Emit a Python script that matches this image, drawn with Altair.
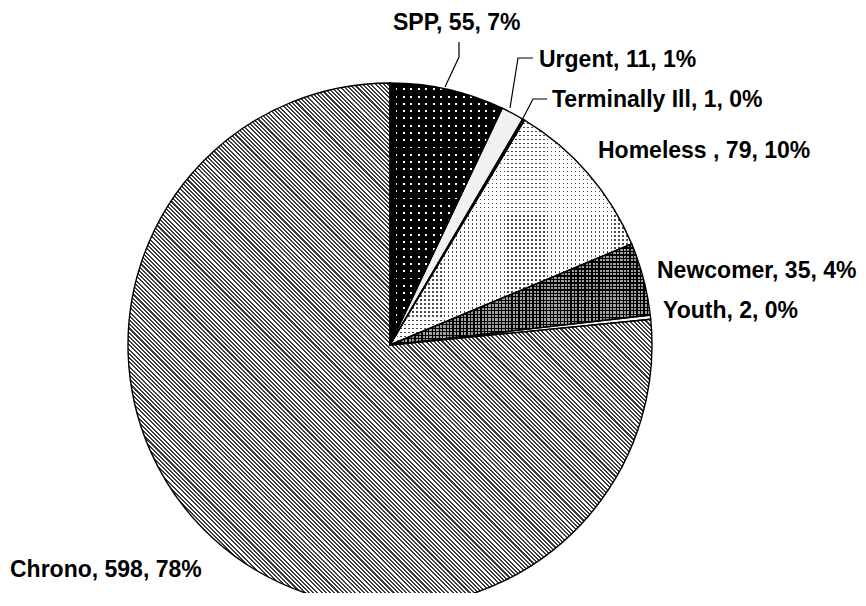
import altair as alt
import pandas as pd

# ---- data ----
categories = ["SPP", "Urgent", "Terminally Ill", "Homeless", "Newcomer", "Youth", "Chrono"]
display_names = ["SPP", "Urgent", "Terminally Ill", "Homeless ", "Newcomer", "Youth", "Chrono"]
values = [55, 11, 1, 79, 35, 2, 598]
pct_labels = ["7%", "1%", "0%", "10%", "4%", "0%", "78%"]

# ---- layout (plot-area pixels) ----
label_x = [385, 531, 544, 590, 649, 655, 2]
label_y = [22, 59, 99, 150, 270, 310, 569]
leader_cat = ["SPP", "SPP", "SPP", "Urgent", "Urgent", "Urgent",
              "Terminally Ill", "Terminally Ill", "Terminally Ill"]
leader_pt = [0, 1, 2, 0, 1, 2, 0, 1, 2]
leader_x = [451, 451, 437, 525, 510, 502, 539, 525, 513]
leader_y = [34, 49, 79, 50, 50, 100, 91, 91, 114]
CX, CY, R = 382, 337, 262

# ---- styles (hatch / dot textures built from striped gradients) ----
CLEAR = "rgba(0,0,0,0)"


def stripes(length_px, period, on_px, on_color, off_color, along_y):
    n = max(1, round(length_px / period))
    frac = on_px / period
    st = []
    for i in range(n):
        a = round(i / n, 5)
        b = round((i + frac) / n, 5)
        c = round((i + 1) / n, 5)
        st += [{"offset": a, "color": on_color}, {"offset": b, "color": on_color},
               {"offset": b, "color": off_color}, {"offset": c, "color": off_color}]
    g = {"gradient": "linear", "x1": 0, "y1": 0, "stops": st}
    if along_y:
        g.update({"x2": 0, "y2": 1})
    else:
        g.update({"x2": 1, "y2": 0})
    return g


# diagonal hatch for Chrono
diag = stripes(744, 3.0, 1.5, "#3c3c3c", "#ffffff", True)
diag.update({"x1": 0, "y1": 1, "x2": 1, "y2": 0})

base_fills = {
    "Chrono": diag,
    "SPP": "#ffffff",
    "Urgent": "#f1f1f1",
    "Terminally Ill": "#000000",
    "Homeless": "#4a4a4a",
    "Newcomer": "#a0a0a0",
    "Youth": "#ffffff",
}
overlay_h = {
    "SPP": stripes(263, 7.3, 5.4, "#000000", CLEAR, True),
    "Homeless": stripes(226, 4.0, 2.6, "#ffffff", CLEAR, True),
    "Newcomer": stripes(102, 3.5, 1.3, "#000000", CLEAR, True),
}
overlay_v = {
    "SPP": stripes(113, 7.3, 5.4, "#000000", CLEAR, False),
    "Homeless": stripes(243, 4.0, 2.6, "#ffffff", CLEAR, False),
    "Newcomer": stripes(262, 3.5, 1.3, "#000000", CLEAR, False),
}

df = pd.DataFrame({
    "category": categories,
    "value": values,
    "idx": list(range(len(categories))),
    "label": [f"{nm}, {v}, {p}" for nm, v, p in zip(display_names, values, pct_labels)],
    "lx": label_x,
    "ly": label_y,
})
lead = pd.DataFrame({"cat": leader_cat, "pt": leader_pt, "x": leader_x, "y": leader_y})


def fill_for(mapping, default):
    enc = None
    for cat, col in mapping.items():
        if enc is None:
            enc = alt.when(alt.datum.category == cat).then(alt.value(col))
        else:
            enc = enc.when(alt.datum.category == cat).then(alt.value(col))
    return enc.otherwise(alt.value(default))


def arc_layer(fill_enc, **mark_kw):
    return alt.Chart(df).mark_arc(outerRadius=R, **mark_kw).encode(
        theta=alt.Theta("value:Q", stack=True),
        order=alt.Order("idx:Q", sort="ascending"),
        fill=fill_enc,
        x=alt.value(CX),
        y=alt.value(CY),
    )


base = arc_layer(fill_for(base_fills, "#ffffff"), strokeWidth=0)
ovl_h = arc_layer(fill_for(overlay_h, CLEAR), strokeWidth=0)
ovl_v = arc_layer(fill_for(overlay_v, CLEAR), strokeWidth=0)
outline = arc_layer(alt.value(CLEAR), stroke="black", strokeWidth=1.4)

leaders = alt.Chart(lead).mark_line(color="black", strokeWidth=1.2).encode(
    x=alt.X("x:Q", scale=None),
    y=alt.Y("y:Q", scale=None),
    detail="cat:N",
    order="pt:Q",
)

labels = alt.Chart(df).mark_text(
    align="left", baseline="alphabetic", font="Liberation Sans",
    fontWeight="bold", fontSize=23, color="black",
).encode(
    x=alt.X("lx:Q", scale=None),
    y=alt.Y("ly:Q", scale=None),
    text="label:N",
)

chart = alt.layer(base, ovl_h, ovl_v, outline, leaders, labels).properties(
    width=850, height=585, padding=0, autosize="none",
).configure_view(stroke=None)

chart.save("out.html", embed_options={"renderer": "svg", "actions": False})
